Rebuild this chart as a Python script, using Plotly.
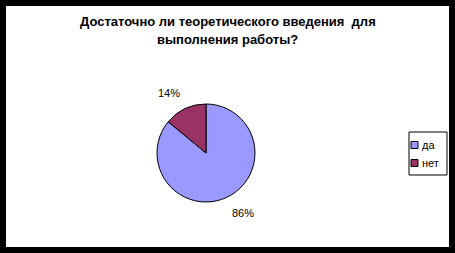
import math
import plotly.graph_objects as go

# Survey answers and their share of responses
categories = ["да", "нет"]
shares = [86, 14]
colors = ["#9999FF", "#993366"]
title_lines = ["Достаточно ли теоретического введения  для", "выполнения работы?"]

W, H = 455, 253
FONT = "Arial, Liberation Sans, sans-serif"

# pie geometry in pixels
CX, CY, R = 206, 153, 49
LABEL_GAP = 8


def px_x(x):
    return x / W


def px_y(y):
    return 1 - y / H


fig = go.Figure()

fig.add_trace(go.Pie(
    labels=categories,
    values=shares,
    sort=False,
    direction="clockwise",
    rotation=0,
    marker=dict(colors=colors, line=dict(color="black", width=1)),
    textinfo="none",
    domain=dict(x=[px_x(CX - R), px_x(CX + R)], y=[px_y(CY + R), px_y(CY - R)]),
    showlegend=False,
    hoverinfo="label+percent",
))

annotations = []

# percentage labels just outside each slice, anchored at the slice's mid-angle
total = sum(shares)
start = 0.0
for v in shares:
    frac = v / total
    mid = (start + frac / 2) * 2 * math.pi  # clockwise from 12 o'clock
    start += frac
    dx, dy = math.sin(mid), -math.cos(mid)
    x = CX + (R + LABEL_GAP) * dx
    y = CY + (R + LABEL_GAP) * dy
    annotations.append(dict(
        text=f"{round(100 * frac)}%", xref="paper", yref="paper",
        x=px_x(x), y=px_y(y),
        xanchor="left" if dx >= 0 else "right",
        yanchor="top" if dy >= 0 else "bottom",
        showarrow=False, font=dict(family=FONT, size=11, color="black"),
    ))

shapes = [
    # white chart area inside the black frame
    dict(type="rect", xref="paper", yref="paper", layer="below",
         x0=px_x(6), x1=px_x(449), y0=px_y(247), y1=px_y(6),
         fillcolor="white", line=dict(width=0)),
    # legend frame
    dict(type="rect", xref="paper", yref="paper",
         x0=px_x(409), x1=px_x(447), y0=px_y(175), y1=px_y(132),
         fillcolor="white", line=dict(color="black", width=1)),
]
entry_y = [145, 163]
for name, col, yy in zip(categories, colors, entry_y):
    shapes.append(dict(type="rect", xref="paper", yref="paper",
                       x0=px_x(411), x1=px_x(418), y0=px_y(yy + 3.5), y1=px_y(yy - 3.5),
                       fillcolor=col, line=dict(color="black", width=1)))
    annotations.append(dict(text=name, xref="paper", yref="paper",
                            x=px_x(420), y=px_y(yy), xanchor="left", yanchor="middle",
                            showarrow=False, font=dict(family=FONT, size=11, color="black")))

# two-line bold title
for line, yy in zip(title_lines, [22, 39]):
    annotations.append(dict(text=f"<b>{line}</b>", xref="paper", yref="paper",
                            x=0.5, y=px_y(yy), xanchor="center", yanchor="middle",
                            showarrow=False, font=dict(family=FONT, size=13, color="black")))

fig.update_layout(
    width=W, height=H,
    margin=dict(l=0, r=0, t=0, b=0),
    paper_bgcolor="black",
    plot_bgcolor="white",
    shapes=shapes,
    annotations=annotations,
)

fig.write_html("out.html")
